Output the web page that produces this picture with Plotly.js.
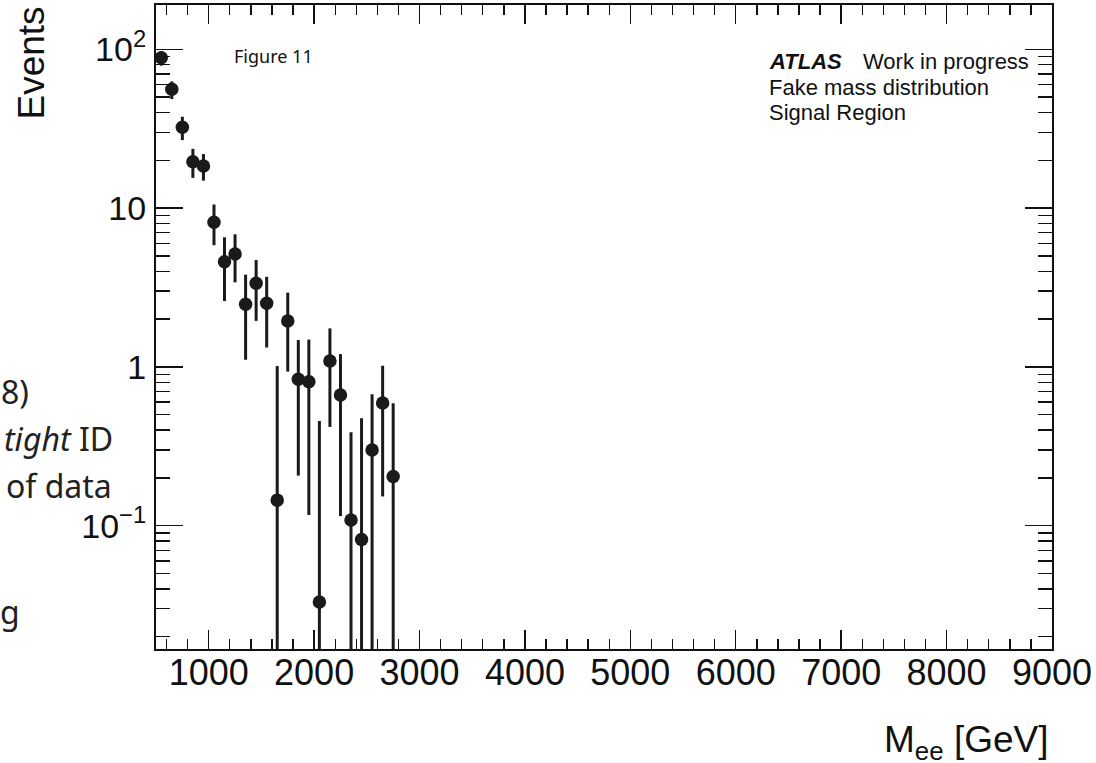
<!DOCTYPE html>
<html>
<head>
<meta charset="utf-8">
<script src="https://cdn.plot.ly/plotly-3.0.1.min.js"></script>
<style>html,body{margin:0;padding:0;background:#fff;}#chart{width:1096px;height:763px;}</style>
</head>
<body>
<div id="chart"></div>
<script>
// Bin centres of M_ee [GeV]
var massBins = [550, 650, 750, 850, 950, 1050, 1150, 1250, 1350, 1450, 1550, 1650,
                1750, 1850, 1950, 2050, 2150, 2250, 2350, 2450, 2550, 2650, 2750];
// Fake events per bin
var events = [88.5, 56.0, 32.3, 19.6, 18.4, 8.14, 4.60, 5.14, 2.48, 3.36, 2.515, 0.145,
              1.945, 0.837, 0.807, 0.0331, 1.089, 0.665, 0.1086, 0.082, 0.300, 0.593, 0.204];
// Statistical uncertainty (upper / lower)
var errUp   = [9.1, 6.8, 5.3, 4.0, 3.5, 2.4, 1.95, 1.7, 1.33, 1.35, 1.18, 0.868,
               0.99, 0.64, 0.68, 0.423, 0.66, 0.54, 0.279, 0.393, 0.372, 0.425, 0.387];
var errDown = [9.6, 7.4, 5.5, 4.1, 3.5, 2.3, 2.0, 1.73, 1.37, 1.41, 1.19, 0.868,
               1.01, 0.63, 0.69, 0.423, 0.67, 0.55, 0.279, 0.393, 0.372, 0.44, 0.387];

// Axis ticks
var yTickVals = [0.1, 1, 10, 100];
var yTickText = ['10<sup>\u22121</sup>', '1', '10', '10<sup>2</sup>'];
var yMinorVals = [0.02, 0.03, 0.04, 0.05, 0.06, 0.07, 0.08, 0.09,
                  0.2, 0.3, 0.4, 0.5, 0.6, 0.7, 0.8, 0.9,
                  2, 3, 4, 5, 6, 7, 8, 9,
                  20, 30, 40, 50, 60, 70, 80, 90];
var xTickVals = [1000, 2000, 3000, 4000, 5000, 6000, 7000, 8000, 9000];
var xTickText = ['1000', '2000', '3000', '4000', '5000', '6000', '7000', '8000', '9000'];

var HELV = 'Liberation Sans, Arial, Helvetica, sans-serif';
var NOTO = 'Noto Sans, sans-serif';
var INK = '#1a1a1a';

var trace = {
  type: 'scatter',
  mode: 'markers',
  x: massBins,
  y: events,
  marker: {color: INK, size: 13.5, symbol: 'circle'},
  error_y: {type: 'data', symmetric: false, array: errUp, arrayminus: errDown,
            color: INK, thickness: 3, width: 0},
  cliponaxis: true,
  showlegend: false,
  hoverinfo: 'x+y'
};

// pixel -> paper helpers for annotations
var L = 156, R = 44, T = 5, B = 114, W = 1096, H = 763;
var PW = W - L - R, PH = H - T - B;
function px(x) { return (x - L) / PW; }
function py(y) { return (H - B - y) / PH; }

var annotations = [
  {text: 'Events', textangle: -90, x: px(30.5), y: py(63), xanchor: 'center', yanchor: 'middle',
   font: {family: HELV, size: 37, color: '#111'}},
  {text: 'M<sub>ee</sub> [GeV]', x: px(1050), y: py(742), xanchor: 'right', yanchor: 'middle',
   font: {family: HELV, size: 37, color: '#111'}},
  {text: '<b><i>ATLAS</i></b>', x: px(768), y: py(61.7), xanchor: 'left', yanchor: 'middle',
   font: {family: HELV, size: 22, color: '#111'}},
  {text: 'Work in progress', x: px(861.5), y: py(61.7), xanchor: 'left', yanchor: 'middle',
   font: {family: HELV, size: 22, color: '#111'}},
  {text: 'Fake mass distribution', x: px(768), y: py(87.4), xanchor: 'left', yanchor: 'middle',
   font: {family: HELV, size: 22, color: '#111'}},
  {text: 'Signal Region', x: px(768), y: py(113), xanchor: 'left', yanchor: 'middle',
   font: {family: HELV, size: 22, color: '#111'}},
  {text: 'Figure 11', x: px(233), y: py(55.7), xanchor: 'left', yanchor: 'middle',
   font: {family: NOTO, size: 18, color: '#111'}},
  {text: '8)', x: px(30), y: py(391.4), xanchor: 'right', yanchor: 'middle',
   font: {family: NOTO, size: 32, color: '#222'}},
  {text: '<i>tight</i> ID', x: px(114), y: py(438.4), xanchor: 'right', yanchor: 'middle',
   font: {family: NOTO, size: 32, color: '#222'}},
  {text: 'of data', x: px(113), y: py(485.4), xanchor: 'right', yanchor: 'middle',
   font: {family: NOTO, size: 32, color: '#222'}},
  {text: 'g', x: px(21), y: py(611.4), xanchor: 'right', yanchor: 'middle',
   font: {family: NOTO, size: 32, color: '#222'}}
];
annotations.forEach(function (a) { a.xref = 'paper'; a.yref = 'paper'; a.showarrow = false; a.borderpad = 0; });

var layout = {
  width: W, height: H,
  margin: {l: L, r: R, t: T, b: B, pad: 0},
  paper_bgcolor: '#fff', plot_bgcolor: '#fff',
  showlegend: false,
  xaxis: {
    range: [500, 9000], type: 'linear',
    showgrid: false, zeroline: false,
    showline: true, linecolor: '#111', linewidth: 2, mirror: 'allticks',
    ticks: 'inside', ticklen: 19, tickwidth: 1.4, tickcolor: '#111',
    tickmode: 'array', tickvals: xTickVals, ticktext: xTickText,
    tickfont: {family: HELV, size: 36, color: '#111'},
    ticklabelstandoff: -9,
    minor: {ticks: 'inside', ticklen: 10, tickwidth: 1.4, tickcolor: '#111', dtick: 200, tick0: 0, showgrid: false}
  },
  yaxis: {
    type: 'log', range: [-1.776, 2.279],
    showgrid: false, zeroline: false,
    showline: true, linecolor: '#111', linewidth: 2, mirror: 'allticks',
    ticks: 'inside', ticklen: 27, tickwidth: 1.4, tickcolor: '#111',
    tickmode: 'array', tickvals: yTickVals, ticktext: yTickText,
    tickfont: {family: HELV, size: 34, color: '#111'},
    ticklabelstandoff: 1,
    minor: {ticks: 'inside', ticklen: 14, tickwidth: 1.4, tickcolor: '#111',
            tickmode: 'array', tickvals: yMinorVals, showgrid: false}
  },
  annotations: annotations
};

Plotly.newPlot('chart', [trace], layout, {staticPlot: true, displayModeBar: false});
</script>
</body>
</html>
